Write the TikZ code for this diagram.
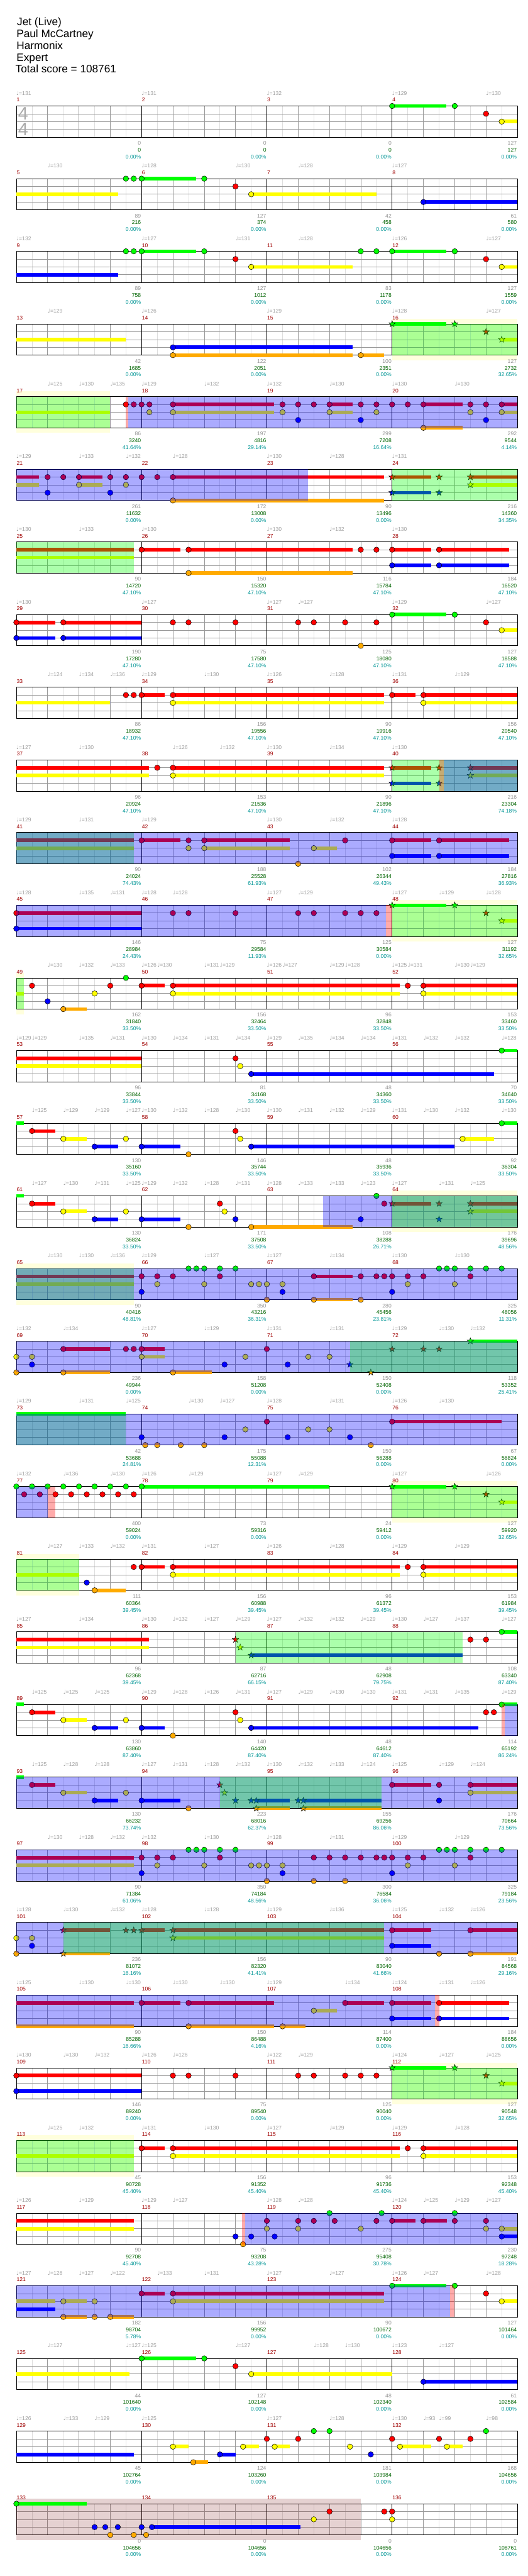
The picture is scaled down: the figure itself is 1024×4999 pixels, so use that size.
\documentclass[tikz,border=0pt]{standalone}
\usepackage{fontspec}
\setmainfont{Liberation Sans}
\newfontfamily\symfam{DejaVu Sans}
\usepackage{tikz}
\definecolor{ln0}{RGB}{0,255,0}
\definecolor{ln1}{RGB}{255,0,0}
\definecolor{ln2}{RGB}{255,255,0}
\definecolor{ln3}{RGB}{0,0,255}
\definecolor{ln4}{RGB}{255,170,0}
\definecolor{phrasecol}{RGB}{255,255,221}
\definecolor{codacol}{RGB}{140,50,50}
\definecolor{tempocol}{RGB}{160,160,160}
\definecolor{mnumcol}{RGB}{160,0,0}
\definecolor{ptsgray}{RGB}{150,150,150}
\definecolor{ptsgreen}{RGB}{0,100,0}
\definecolor{ptsteal}{RGB}{0,150,150}
\tikzset{
  lbl/.style      = {font=\fontsize{10.5}{12}\selectfont,inner sep=0pt},
  tempo/.style    = {lbl,text=tempocol,anchor=base west},
  mnum/.style     = {lbl,text=mnumcol,anchor=base west,xshift=0.5pt},
  ptsA/.style     = {lbl,text=ptsgray,anchor=base east,xshift=-1pt},
  ptsB/.style     = {lbl,text=ptsgreen,anchor=base east,xshift=-1pt},
  ptsC/.style     = {lbl,text=ptsteal,anchor=base east,xshift=-1pt},
  headline/.style = {font=\fontsize{21}{24}\selectfont,inner sep=0pt,anchor=base west},
  tsig/.style     = {font=\fontsize{35}{35}\selectfont,text=black!33,inner sep=0pt},
  eighthln/.style = {black!13,line width=0.8pt},
  beatln/.style   = {black!40,line width=0.8pt},
  laneln/.style   = {black!40,line width=0.9pt},
  barln/.style    = {black,line width=0.9pt},
  gem/.style      = {draw=black,line width=0.6pt},
  phrasebg/.style = {fill=phrasecol},
  coda/.style     = {fill=codacol,fill opacity=.22},
  spblue/.style   = {fill=blue,fill opacity=.33},
  spgreen/.style  = {fill=ln0,fill opacity=.33},
  spred/.style    = {fill=red,fill opacity=.33},
  rowat/.style    = {shift={(31.7,205.7+#1*141)},x=30.4pt}
}
\newcommand{\qn}{{\symfam ♩}}
\newcommand{\staff}[1]{%
  \foreach \ix in {1,3,...,31} {\draw[eighthln] (\ix,0) -- (\ix,60.5);}
  \foreach \ix in {2,4,6,10,12,14,18,20,22,26,28,30} {\draw[beatln] (\ix,0) -- (\ix,60.5);}
  \foreach \la in {15.125,30.25,45.375} {\draw[laneln] (0,\la) -- (32,\la);}
  \foreach \ix in {8,16,24} {\draw[barln] (\ix,0) -- (\ix,60.5);}
  \draw[barln] (0,0) rectangle (32,60.5);
  \foreach \k in {0,...,3} {\pgfmathtruncatemacro\m{#1+\k}\node[mnum] (m\m) at (8*\k,-8) {\m};}
}
\newcommand{\tempos}[2]{\foreach \e/\tv [count=\k] in {#2} {\node[tempo] (tp#1-\k) at (\e,-21) {\qn=\tv};}}
\newcommand{\scores}[2]{\foreach \ptsa/\ptsb/\ptsc [count=\k from 0] in {#2} {%
  \pgfmathtruncatemacro\m{#1+\k}%
  \node[ptsA] (sa\m) at (8*\k+8,75.7) {\ptsa};
  \node[ptsB] (sb\m) at (8*\k+8,89) {\ptsb};
  \node[ptsC] (sc\m) at (8*\k+8,102.3) {\ptsc\%};}}
\newcommand{\sustains}[1]{\foreach \la/\xa/\xb in {#1} {\fill[ln\la] (\xa,{\la*15.125-3.5}) rectangle (\xb,{\la*15.125+3.5});}}
\newcommand{\gems}[1]{\foreach \e/\la in {#1} {\filldraw[gem,fill=ln\la] (\e,{\la*15.125}) circle (5.3pt);}}
\newcommand{\stars}[1]{\foreach \e/\la in {#1} {\filldraw[gem,fill=ln\la] (\e,{\la*15.125})
  +(90:6.5pt) -- +(126:2.6pt) -- +(162:6.5pt) -- +(198:2.6pt) -- +(234:6.5pt) -- +(270:2.6pt)
  -- +(306:6.5pt) -- +(342:2.6pt) -- +(18:6.5pt) -- +(54:2.6pt) -- cycle;}}
\newcommand{\ybg}[2]{\fill[phrasebg] (#1,-10) rectangle (#2,70.5);}
\newcommand{\rosebg}[2]{\fill[coda] (#1,-10) rectangle (#2,70.5);}
\newcommand{\ovB}[2]{\fill[spblue] (#1,0) rectangle (#2,60.5);}
\newcommand{\ovG}[2]{\fill[spgreen] (#1,0) rectangle (#2,60.5);}
\newcommand{\ovP}[2]{\fill[spred] (#1,0) rectangle (#2,60.5);}

\begin{document}
\begin{tikzpicture}[x=1pt,y=-1pt]
  \fill[white] (0,0) rectangle (1024,4999);
  \useasboundingbox (0,0) rectangle (1024,4999);
  \node[headline] (song)   at (33,49.5)  {Jet (Live)};
  \node[headline] (artist) at (32,72.5)  {Paul McCartney};
  \node[headline] (author) at (32,95.5)  {Harmonix};
  \node[headline] (level)  at (32,118.5) {Expert};
  \node[headline] (total)  at (30,141.5) {Total score = 108761};

  % rows of four measures
  \begin{scope}[rowat=0]
    \staff{1}
    \node[tsig] (ts1) at (0.44,14.8) {4};
    \node[tsig] (ts2) at (0.44,44.8) {4};
    \tempos{0}{0/131,8/131,16/132,24/129,30/130}
    \scores{1}{0/0/0.00,0/0/0.00,0/0/0.00,127/127/0.00}
    \sustains{0/24/27.47,2/31/32}
    \gems{24/0,28/0,30/1,31/2}
  \end{scope}
  \begin{scope}[rowat=1]
    \staff{5}
    \tempos{1}{2/130,8/128,14/130,18/128,24/127}
    \scores{5}{89/216/0.00,127/374/0.00,42/458/0.00,61/580/0.00}
    \sustains{2/0/6.49,0/8/11.49,2/15/23,3/26/32}
    \gems{7/0,7.5/0,8/0,12/0,14/1,15/2,26/3}
  \end{scope}
  \begin{scope}[rowat=2]
    \staff{9}
    \tempos{2}{0/132,8/127,14/131,18/128,24/126,30/127}
    \scores{9}{89/758/0.00,127/1012/0.00,83/1178/0.00,127/1559/0.00}
    \sustains{3/0/6.49,0/8/11.49,2/15/21.48,0/24/27.47,2/31/32}
    \gems{7/0,7.5/0,8/0,12/0,14/1,15/2,22/0,23/0,24/0,28/0,30/1,31/2}
  \end{scope}
  \begin{scope}[rowat=3]
    \ybg{24}{32}
    \staff{13}
    \tempos{3}{2/129,8/126,16/129,24/128,30/127}
    \scores{13}{42/1685/0.00,122/2051/0.00,100/2351/0.00,127/2732/32.65}
    \sustains{2/0/7,3/10/21.48,4/10/21.48,4/22/23.49,0/24/27.47,2/31/32}
    \gems{10/3,10/4,22/4}
    \stars{24/0,28/0,30/1,31/2}
    \ovG{24}{32}
  \end{scope}
  \begin{scope}[rowat=4]
    \ybg{0}{6}
    \staff{17}
    \tempos{4}{2/125,4/130,6/135,8/129,12/132,16/132,20/130,24/130,28/130}
    \scores{17}{86/3240/41.64,197/4816/29.14,299/7208/16.64,292/9544/4.14}
    \sustains{2/0/6,1/10/16.48,2/10/16.48,1/20/21.48,2/20/21.48,1/26/28.49,4/26/28.49,1/31/32,2/31/32}
    \gems{7/1,7.5/1,8/1,8.5/1,8.5/2,10/1,10/2,17/1,17/2,18/1,18/3,19/1,20/1,20/2,22/1,22/3,23/1,23/2,24/1,25/1,26/1,26/4,29/1,29/2,30/1,30/3,31/1,31/2}
    \ovG{0}{6}
    \ovP{6.99}{7.16}
    \ovB{7.16}{32}
  \end{scope}
  \begin{scope}[rowat=5]
    \staff{21}
    \tempos{5}{0/129,4/133,7/132,10/128,16/130,20/128,24/131}
    \scores{21}{261/11632/0.00,172/13008/0.00,90/13496/0.00,216/14360/34.35}
    \sustains{1/0/1.46,2/0/1.46,1/4/5.49,2/4/5.49,1/10/23.49,4/10/23.49,1/24/26.49,3/24/26.49,1/29/32,2/29/32}
    \gems{2/1,2/3,3/1,4/1,4/2,6/1,6/3,7/1,7/2,8/1,9/1,10/1,10/4}
    \stars{24/1,24/3,27/1,27/3,29/1,29/2}
    \ovB{0}{18.61}
    \ovG{24}{32}
  \end{scope}
  \begin{scope}[rowat=6]
    \staff{25}
    \tempos{6}{0/130,4/133,8/130,16/130,20/132,24/130}
    \scores{25}{90/14720/47.10,150/15320/47.10,116/15784/47.10,184/16520/47.10}
    \sustains{1/0/7.49,2/0/7.49,1/8/10.49,1/11/21.48,4/11/21.48,1/24/26.49,3/24/26.49,1/27/31.48,3/27/31.48}
    \gems{8/1,11/1,11/4,22/1,23/1,24/1,24/3,27/1,27/3}
    \ovG{0}{7.49}
  \end{scope}
  \begin{scope}[rowat=7]
    \staff{29}
    \tempos{7}{0/130,8/127,16/127,18/127,24/129,30/127}
    \scores{29}{190/17280/47.10,75/17580/47.10,125/18080/47.10,127/18588/47.10}
    \sustains{1/0/2.48,3/0/2.48,1/3/8,3/3/8,0/24/27.47,2/31/32}
    \gems{0/1,0/3,3/1,3/3,10/1,11/1,14/1,18/1,19/1,21/1,23/1,22/4,24/0,28/0,30/1,31/2}
  \end{scope}
  \begin{scope}[rowat=8]
    \staff{33}
    \tempos{8}{2/124,4/134,6/136,8/129,12/130,16/126,20/128,24/131,28/129}
    \scores{33}{86/18932/47.10,156/19556/47.10,90/19916/47.10,156/20540/47.10}
    \sustains{2/0/6,1/8/9.49,1/10/23.49,2/10/23.49,1/24/25.49,1/26/32,2/26/32}
    \gems{7/1,7.5/1,8/1,10/1,10/2,24/1,26/1,26/2}
  \end{scope}
  \begin{scope}[rowat=9]
    \staff{37}
    \tempos{9}{0/127,4/130,10/126,13/132,16/130,20/134,24/130}
    \scores{37}{96/20924/47.10,153/21536/47.10,90/21896/47.10,216/23304/74.18}
    \sustains{1/0/8.49,2/0/8.49,1/10/23.49,2/10/23.49,1/24/26.49,3/24/26.49,1/29/32,2/29/32}
    \gems{9/1,10/1,10/2}
    \stars{24/1,24/3,27/1,27/3,29/1,29/2}
    \ovG{24}{32}
    \ovP{27}{27.32}
    \ovB{27.32}{32}
  \end{scope}
  \begin{scope}[rowat=10]
    \staff{41}
    \tempos{10}{0/129,4/131,8/129,16/130,20/132,24/128}
    \scores{41}{90/24024/74.43,188/25528/61.93,102/26344/49.43,184/27816/36.93}
    \sustains{1/0/7.49,2/0/7.49,1/8/10.49,1/12/17.48,2/12/17.48,2/19/20.48,1/24/26.49,3/24/26.49,1/27/31.48,3/27/31.48}
    \gems{8/1,11/1,11/2,12/1,12/2,18/4,19/2,21/1,24/1,24/3,27/1,27/3}
    \ovG{0}{7.49}
    \ovB{0}{32}
  \end{scope}
  \begin{scope}[rowat=11]
    \ybg{24}{32}
    \staff{45}
    \tempos{11}{0/128,4/135,6/131,8/128,10/128,16/127,18/129,24/127,27/129,30/128}
    \scores{45}{146/28984/24.43,75/29584/11.93,125/30584/0.00,127/31192/32.65}
    \sustains{1/0/8,3/0/8,0/24/27.47,2/31/32}
    \gems{0/1,0/3,10/1,11/1,14/1,18/1,19/1,21/1,22/1,23/1}
    \stars{24/0,28/0,30/1,31/2}
    \ovB{0}{23.62}
    \ovP{23.62}{24}
    \ovG{24}{32}
  \end{scope}
  \begin{scope}[rowat=12]
    \ybg{0}{0.48}
    \staff{49}
    \tempos{12}{2/130,4/132,6/133,8/126,9/130,12/131,13/129,16/126,17/127,20/129,21/128,24/125,25/131,28/130,29/129}
    \scores{49}{162/31840/33.50,156/32464/33.50,96/32848/33.50,153/33460/33.50}
    \sustains{2/0/0.48,4/3/4.48,1/8/9.49,1/10/24.49,2/10/24.49,1/26/32,2/26/32}
    \gems{1/1,2/3,3/4,5/2,6/1,7/0,8/1,10/1,10/2,25/1,26/1,26/2}
    \ovG{0}{0.48}
  \end{scope}
  \begin{scope}[rowat=13]
    \staff{53}
    \tempos{13}{0/129,1/129,4/135,6/131,8/130,10/134,12/131,14/134,16/129,18/135,20/134,22/134,24/131,26/132,28/132,31/128}
    \scores{53}{96/33844/33.50,81/34168/33.50,48/34360/33.50,70/34640/33.50}
    \sustains{1/0/8,2/0/8,3/15/30.5,0/31/32}
    \gems{14/1,14.3/2,15/3,31/0}
  \end{scope}
  \begin{scope}[rowat=14]
    \staff{57}
    \tempos{14}{1/125,3/129,5/129,7/127,8/130,10/132,12/128,14/130,16/130,18/131,20/132,22/129,24/131,26/130,28/132,31/130}
    \scores{57}{130/35160/33.50,146/35744/33.50,48/35936/33.50,92/36304/33.50}
    \sustains{0/0/0.48,1/1/2.48,2/3/4.48,3/5/6.49,3/8/10.49,3/15/28,2/28.5/30.5,0/31/32}
    \gems{1/1,3/2,5/3,7/2,8/3,11/4,14/1,14.3/2,15/3,28.5/2,31/0}
  \end{scope}
  \begin{scope}[rowat=15]
    \ybg{24}{32}
    \staff{61}
    \tempos{15}{1/127,3/130,5/131,7/125,8/129,10/132,12/128,14/131,16/128,18/133,20/133,22/123,24/127,27/131,29/125}
    \scores{61}{130/36824/33.50,171/37508/33.50,108/38288/26.71,176/39696/48.56}
    \sustains{0/0/0.48,1/1/2.48,2/3/4.48,3/5/6.49,3/8/10.49,4/15/21.48,1/24/26.49,1/29/32,2/29/32}
    \gems{1/1,3/2,5/3,7/2,8/3,11/4,13/1,13.3/2,14/3,15/4,22/3,23/0,23.5/1}
    \stars{24/1,27/1,27/3,29/1,29/2}
    \ovB{19.61}{32}
    \ovG{24}{32}
  \end{scope}
  \begin{scope}[rowat=16]
    \ybg{0}{7.49}
    \staff{65}
    \tempos{16}{2/130,4/130,6/136,8/129,12/127,16/127,20/134,24/130,28/130}
    \scores{65}{90/40416/48.81,350/43216/36.31,280/45456/23.81,325/48056/11.31}
    \sustains{1/0/7.49,2/0/7.49,1/19/21.48,4/19/21.48}
    \gems{8/1,8/3,9/1,9/2,10/1,11/0,11.5/0,12/0,12/2,13/0,13/1,14/0,15/2,15.5/2,16/2,16/4,17/2,17/3,19/1,19/4,22/1,22/4,23/1,23.5/1,24/1,24/3,25/1,25/2,26/1,27/0,27.5/0,28/0,28/2,29/0,29/1,30/0,31/0}
    \ovG{0}{7.49}
    \ovB{0}{32}
  \end{scope}
  \begin{scope}[rowat=17]
    \staff{69}
    \tempos{17}{0/132,3/134,8/127,12/129,16/131,20/131,24/129,27/130,29/132}
    \scores{69}{236/49944/0.00,158/51208/0.00,150/52408/0.00,118/53352/25.41}
    \sustains{1/3/6,4/3/6,1/8/9.49,2/8/9.49,4/10/12.5,0/29/32}
    \gems{0/2,0/4,1/2,1/3,3/1,3/4,7/1,7.5/1,8/1,8/2,10/4,13.3/3,14.63/2,16/1,17.33/3,18.65/2,20/2}
    \stars{21.31/3,22.64/4,24/1,26/1,27/1,29/0}
    \ovB{0}{32}
    \ovG{21.31}{32}
  \end{scope}
  \begin{scope}[rowat=18]
    \staff{73}
    \tempos{18}{0/129,4/131,7/125,11/130,13/127,16/128,20/131,24/126,27/130}
    \scores{73}{42/53688/24.81,175/55088/12.31,150/56288/0.00,67/56824/0.00}
    \sustains{0/0/7,1/24/31}
    \gems{8/3,8.23/4,9/4,10.5/4,12/4,13.3/3,14.63/2,16/1,17.33/3,18.65/2,20/2,21.31/3,22.64/4,24/1}
    \ovG{0}{7}
    \ovB{0}{32}
  \end{scope}
  \begin{scope}[rowat=19]
    \ybg{24}{32}
    \staff{77}
    \tempos{19}{0/132,3/136,6/130,8/126,11/129,16/127,18/129,24/127,30/126}
    \scores{77}{400/59024/0.00,73/59316/0.00,24/59412/0.00,127/59920/32.65}
    \sustains{0/8/20,0/24/27.47,2/31/32}
    \gems{0/0,1/0,2/0,3/0,4/0,5/0,6/0,7/0,8/0,0.5/1,1.5/1,2.5/1,3.5/1,4.5/1,5.5/1,6.5/1,7.5/1}
    \stars{24/0,28/0,30/1,31/2}
    \ovB{0}{2}
    \ovP{2}{2.48}
    \ovG{24}{32}
  \end{scope}
  \begin{scope}[rowat=20]
    \ybg{0}{4}
    \staff{81}
    \tempos{20}{2/127,4/133,6/132,8/131,12/127,16/126,20/128,24/129,28/129}
    \scores{81}{111/60364/39.45,156/60988/39.45,96/61372/39.45,153/61984/39.45}
    \sustains{2/0/4,4/5/7,1/8/9.49,1/10/24.49,2/10/24.49,1/26/32,2/26/32}
    \gems{4.5/3,5/4,7.5/1,8/1,10/1,10/2,25/1,26/1,26/2}
    \ovG{0}{4}
  \end{scope}
  \begin{scope}[rowat=21]
    \staff{85}
    \tempos{21}{0/127,4/134,8/130,10/132,12/127,14/129,16/127,18/132,20/132,22/129,24/130,26/127,28/137,31/127}
    \scores{85}{96/62368/39.45,87/62716/66.15,48/62908/79.75,108/63340/87.40}
    \sustains{1/0/8.49,2/0/8.49,3/15/28.49,0/31/32}
    \gems{29/1,30/1,31/0}
    \stars{14/1,14.3/2,15/3}
    \ovG{14}{28.49}
  \end{scope}
  \begin{scope}[rowat=22]
    \staff{89}
    \tempos{22}{1/125,3/125,5/125,8/129,10/128,12/126,14/131,16/127,18/129,20/130,22/130,24/131,26/131,28/135,31/129}
    \scores{89}{130/63860/87.40,140/64420/87.40,48/64612/87.40,114/65192/86.24}
    \sustains{0/0/0.48,1/1/2.48,2/3/4.48,3/5/6.49,3/8/9.49,3/15/29.5,0/31/32}
    \gems{1/1,3/2,5/3,7/2,8/3,10/4,14/1,14.3/2,15/3,30/1,30.5/1,31/0}
    \ovP{31}{31.2}
    \ovB{31.2}{32}
  \end{scope}
  \begin{scope}[rowat=23]
    \staff{93}
    \tempos{23}{1/125,3/128,5/128,8/127,10/131,12/128,14/132,16/130,18/132,20/133,22/124,24/125,27/129,29/124}
    \scores{93}{130/66232/73.74,223/68016/62.37,155/69256/86.06,176/70664/73.56}
    \sustains{0/0/0.48,1/1/2.48,2/3/4.48,3/5/6.49,3/8/10.49,3/15.32/17.48,4/15.32/17.48,3/18.33/23.31,4/18.33/23.31,1/24/26.49,1/29/32,2/29/32}
    \gems{1/1,3/2,5/3,7/2,8/3,11/4,24/1,27/1,27/3,29/1,29/2}
    \stars{13/1,13.3/2,14/3,15/3,15.32/3,15.32/4,18/3,18.33/3,18.33/4}
    \ovB{0}{32}
    \ovG{13}{23.31}
  \end{scope}
  \begin{scope}[rowat=24]
    \staff{97}
    \tempos{24}{2/130,4/128,6/132,8/132,12/130,16/128,20/131,24/129,28/129}
    \scores{97}{90/71384/61.06,350/74184/48.56,300/76584/36.06,325/79184/23.56}
    \sustains{1/0/7.49,2/0/7.49}
    \gems{8/1,8/3,9/1,9/2,10/1,11/0,11.5/0,12/0,12/2,13/0,13/1,14/0,15/2,15.5/2,16/2,16/4,17/2,17/3,19/1,19/4,20/1,21/1,21/4,22/1,23/1,23.5/1,24/1,24/3,25/1,25/2,26/1,27/0,27.5/0,28/0,28/2,29/0,29/1,30/0,31/0}
    \ovB{0}{32}
  \end{scope}
  \begin{scope}[rowat=25]
    \staff{101}
    \tempos{25}{0/128,3/130,6/132,8/128,12/128,16/129,20/136,24/125,27/132,29/126}
    \scores{101}{236/81072/16.16,156/82320/41.41,90/83040/41.66,191/84568/29.16}
    \sustains{1/3/6,4/3/6,1/8/9.49,1/10/23.49,2/10/23.49,1/24/26.49,3/24/26.49,1/29/32,4/29/32}
    \gems{0/2,0/4,1/2,1/3,24/1,24/3,27/4,29/1,29/4}
    \stars{3/1,3/4,7/1,7.5/1,8/1,10/1,10/2}
    \ovB{0}{32}
    \ovG{3}{23.49}
  \end{scope}
  \begin{scope}[rowat=26]
    \staff{105}
    \tempos{26}{0/125,4/130,7/130,10/130,13/130,16/129,21/134,24/124,27/131,29/126}
    \scores{105}{90/85288/16.66,150/86488/4.16,114/87400/0.00,184/88656/0.00}
    \sustains{1/0/7.49,4/0/7.49,1/8/10.49,1/11/16.48,4/11/16.48,4/17/18.48,2/19/20.48,1/21/23.49,1/24/26.49,3/24/26.49,1/27/31.48,3/27/31.48}
    \gems{8/1,11/1,11/4,17/4,19/2,21/1,24/1,24/3,27/1,27/3}
    \ovB{0}{26.73}
    \ovP{26.73}{27}
  \end{scope}
  \begin{scope}[rowat=27]
    \ybg{24}{32}
    \staff{109}
    \tempos{27}{0/130,3/130,5/132,8/126,10/126,16/122,18/129,24/124,27/127,30/125}
    \scores{109}{146/89240/0.00,75/89540/0.00,125/90040/0.00,127/90548/32.65}
    \sustains{1/0/8,3/0/8,0/24/27.47,2/31/32}
    \gems{0/1,0/3,10/1,11/1,14/1,18/1,19/1,21/1,22/1,23/1}
    \stars{24/0,28/0,30/1,31/2}
    \ovG{24}{32}
  \end{scope}
  \begin{scope}[rowat=28]
    \ybg{0}{7.49}
    \staff{113}
    \tempos{28}{2/125,4/132,8/131,12/130,16/127,20/129,24/129,28/128}
    \scores{113}{45/90728/45.40,156/91352/45.40,96/91736/45.40,153/92348/45.40}
    \sustains{2/0/7.49,1/8/9.49,1/10/24.49,2/10/24.49,1/26/32,2/26/32}
    \gems{8/1,10/1,10/2,25/1,26/1,26/2}
    \ovG{0}{7.49}
  \end{scope}
  \begin{scope}[rowat=29]
    \staff{117}
    \tempos{29}{0/126,4/129,8/129,10/127,16/128,18/128,24/124,26/125,28/129,30/127}
    \scores{117}{90/92708/45.40,75/93208/43.28,275/95408/30.78,230/97248/18.28}
    \sustains{1/0/7.49,2/0/7.49,1/24/25.49,1/26/27.49,2/31/32,3/31/32}
    \gems{14/3,14.48/4,15/3,16/1,16/2,16.5/3,18/1,18/2,19/1,20/0,20.33/1,22/2,23/1,23.33/0,24/1,26/1,28/0,28/1,30/1,30/2,31/2,31/3}
    \ovP{14.43}{14.61}
    \ovB{14.61}{32}
  \end{scope}
  \begin{scope}[rowat=30]
    \staff{121}
    \tempos{30}{0/127,2/126,4/127,6/122,9/133,12/131,16/127,20/127,24/126,26/127,30/128}
    \scores{121}{182/98704/5.78,156/99952/0.00,90/100672/0.00,127/101464/0.00}
    \sustains{2/0/2.48,3/0/2.48,2/3/4.48,4/3/4.48,4/6/7.49,1/8/9.49,1/10/23.49,2/10/23.49,0/24/27.47,2/31/32}
    \gems{3/2,3/4,5/2,5/4,6/4,8/1,10/1,10/2,24/0,28/0,30/1,31/2}
    \ovB{0}{27.69}
    \ovP{27.69}{28}
  \end{scope}
  \begin{scope}[rowat=31]
    \staff{125}
    \tempos{31}{2/127,7/127,8/125,14/127,19/128,21/130,24/123,27/127}
    \scores{125}{44/101640/0.00,127/102148/0.00,48/102340/0.00,61/102584/0.00}
    \sustains{2/0/7.23,0/8/11.49,2/15/24,3/26/32}
    \gems{8/0,12/0,14/1,15/2,26/3}
  \end{scope}
  \begin{scope}[rowat=32]
    \staff{129}
    \tempos{32}{0/126,3/133,5/129,8/125,16/127,20/128,24/130,26/93,27/99,30/98}
    \scores{129}{45/102764/0.00,124/103260/0.00,181/103984/0.00,168/104656/0.00}
    \sustains{3/0/7.49,2/10/11,4/11.3/12.25,3/13/14,2/14.48/15.5,2/16.5/17.48,2/24.5/26.49,2/27.5/28.49}
    \gems{10/2,11.3/4,13/3,14.48/2,16/1,16.5/2,18/1,19/0,20/0,21.31/2,22.64/3,24/1,24.5/2,27/1,27.5/2,29/1,30/0}
  \end{scope}
  \begin{scope}[rowat=33]
    \staff{133}
    \rosebg{0}{22}
    \scores{133}{0/104656/0.00,0/104656/0.00,0/104656/0.00,0/108761/0.00}
    \sustains{0/0/4.48,3/8.66/18.13}
    \gems{0/0,5/3,5.68/3,6/4,6.48/3,7.5/4,8/3,8.29/4,8.66/3,19/2,20/1,23.5/1,24/1,24/2}
  \end{scope}
\end{tikzpicture}
\end{document}
